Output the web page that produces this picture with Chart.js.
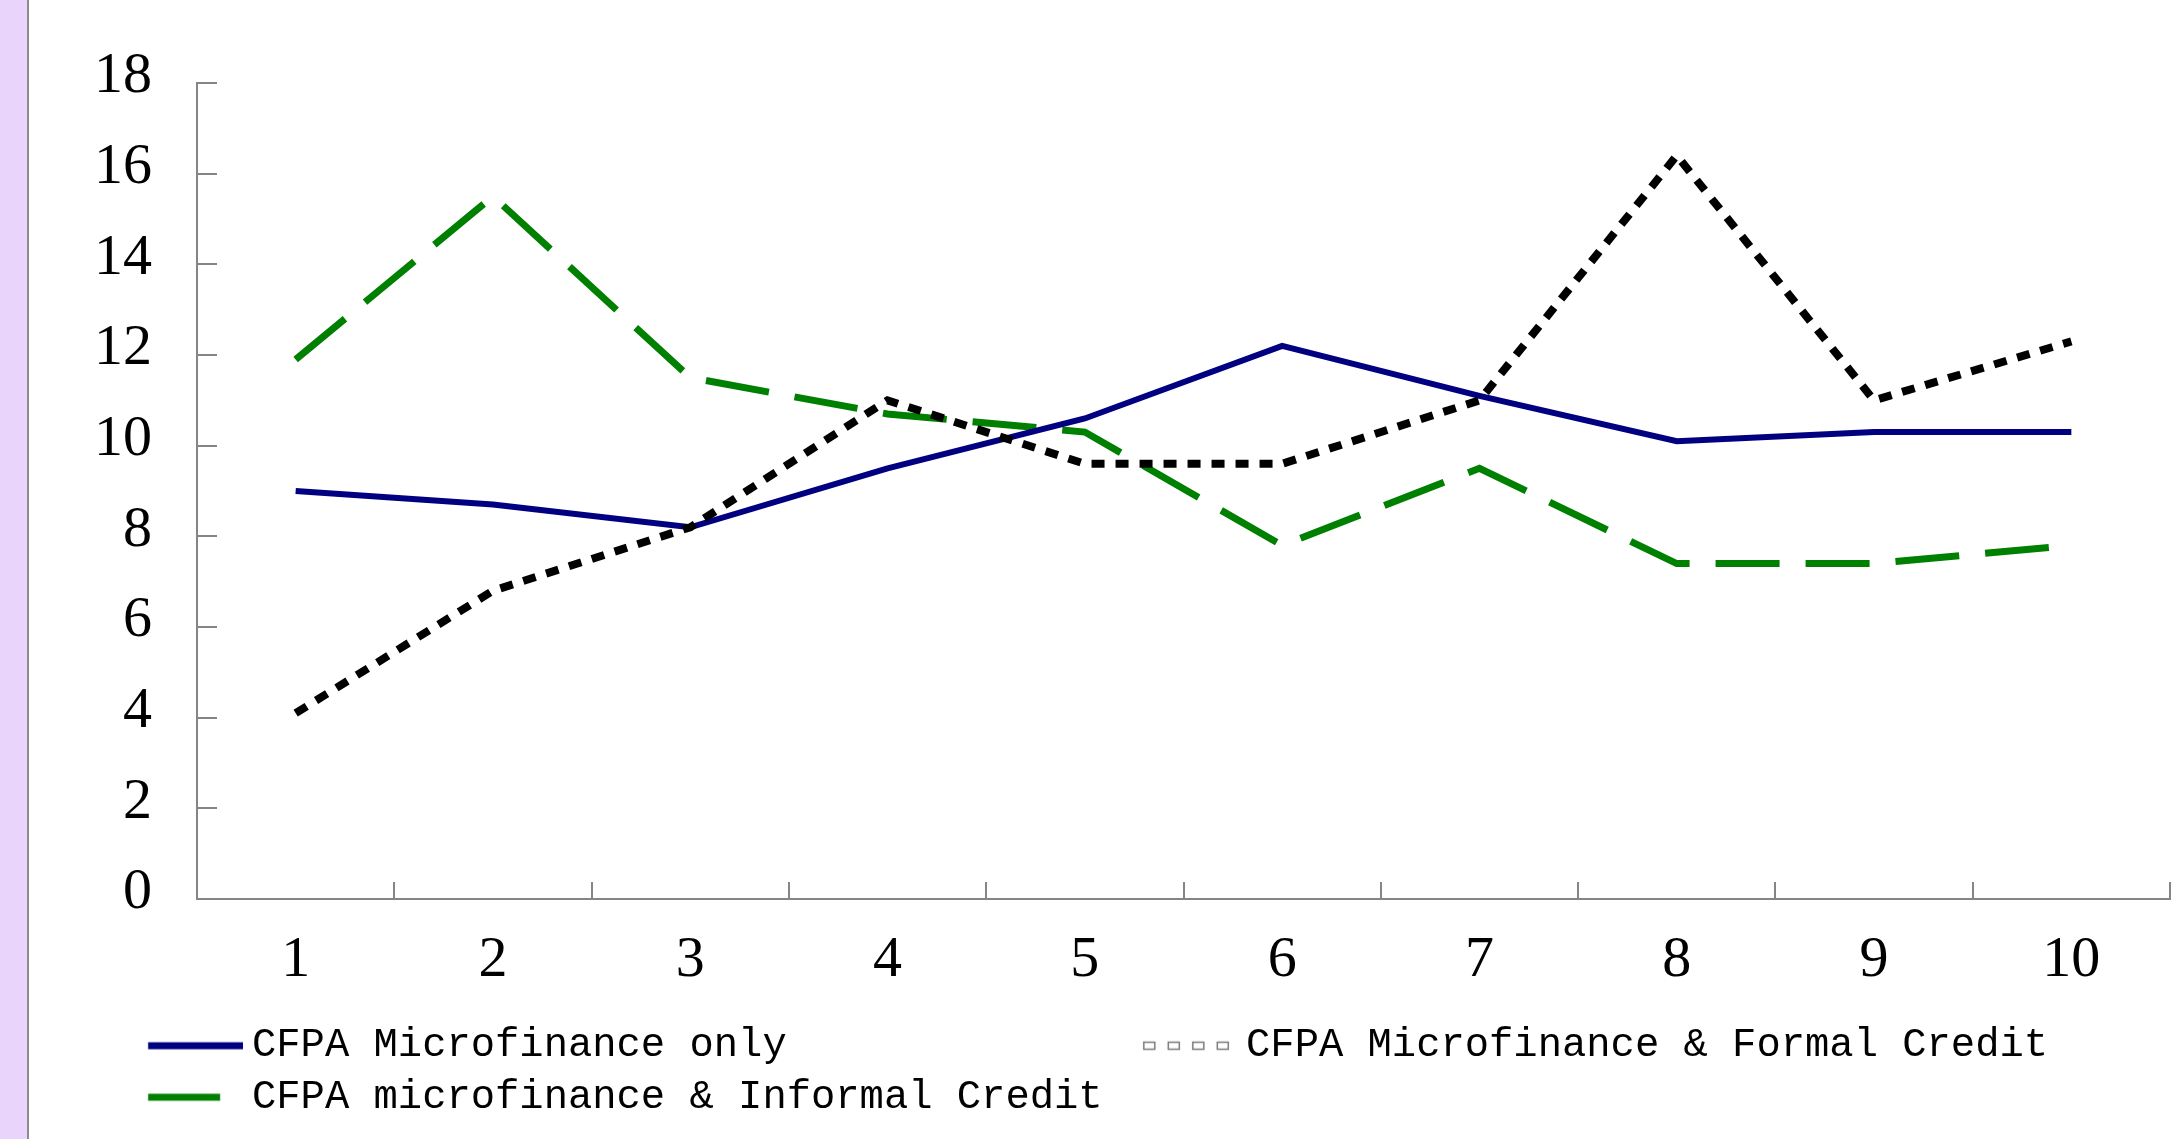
<!DOCTYPE html>
<html>
<head>
<meta charset="utf-8">
<script src="https://cdn.jsdelivr.net/npm/chart.js@4.4.0/dist/chart.umd.min.js"></script>
<style>
    html, body { margin: 0; padding: 0; background: #fff; }
    #marco { position: relative; width: 2174px; height: 1139px; }
    #franja { position: absolute; left: 0; top: 0; width: 27px; height: 1139px; background: #e9d5fb; border-right: 2px solid #8c8c8c; z-index: 2; }
</style>
</head>
<body>
<div id="marco">
    <div id="franja"></div>
    <canvas id="grafico"></canvas>
</div>
<script>
const categorias = ['1', '2', '3', '4', '5', '6', '7', '8', '9', '10'];
const soloMicro = [9.0, 8.7, 8.2, 9.5, 10.6, 12.2, 11.1, 10.1, 10.3, 10.3];
const creditoFormal = [4.1, 6.8, 8.2, 11.0, 9.6, 9.6, 11.0, 16.4, 11.0, 12.3];
const creditoInformal = [11.9, 15.5, 11.5, 10.7, 10.3, 7.8, 9.5, 7.4, 7.4, 7.8];
const ticksY = [0, 2, 4, 6, 8, 10, 12, 14, 16, 18];
const etiquetas = ['CFPA Microfinance only', 'CFPA Microfinance & Formal Credit', 'CFPA microfinance & Informal Credit'];

const gris = '#858585';

// medidas de la leyenda (fuente monoespaciada, 0.6em por caracter)
const padIzq = 60, padLeyenda = 11, fuenteLeyenda = 40.5;
const x1 = padIzq + padLeyenda;
const anchoCaja = 252 - fuenteLeyenda / 2 - x1;
const centro1 = x1 + anchoCaja / 2;
const anchoIcono = 2 * (243 - centro1);
const izqIcono1 = centro1 - anchoIcono / 2;
const relleno1 = 33;
const x2 = 252 + relleno1 * 0.6 * fuenteLeyenda + padLeyenda;
const izqIcono2 = x2 + anchoCaja / 2 - anchoIcono / 2;

function icono(tipo) {
    const c = document.createElement('canvas');
    c.width = Math.round(anchoIcono); c.height = 16;
    const g = c.getContext('2d');
    const o = 148 - izqIcono1;
    if (tipo === 'solido') {
        g.fillStyle = '#000080';
        g.fillRect(o, 4.5, 95, 7);
    } else if (tipo === 'guion') {
        g.fillStyle = '#008000';
        g.fillRect(o, 4.5, 72, 7);
    } else {
        const o2 = 1141 - izqIcono2;
        g.strokeStyle = '#7a7a7a';
        g.lineWidth = 1.5;
        for (let k = 0; k < 4; k++) g.strokeRect(o2 + 2.5 + k * 24.5, 4.5, 11, 7);
        g.fillStyle = '#9a9a9a';
        g.fillRect(o2 + 99, 5, 2, 6);
    }
    return c;
}
const iconos = [icono('solido'), icono('puntos'), icono('guion')];

new Chart(document.getElementById('grafico'), {
    type: 'line',
    data: {
        labels: categorias,
        datasets: [{
            label: etiquetas[0],
            data: soloMicro,
            borderColor: '#000080',
            borderWidth: 6,
            order: 1
        }, {
            label: etiquetas[1],
            data: creditoFormal,
            borderColor: '#000000',
            borderWidth: 8,
            borderDash: [13, 11],
            order: 0
        }, {
            label: etiquetas[2],
            data: creditoInformal,
            borderColor: '#008000',
            borderWidth: 7,
            borderDash: [64, 26],
            order: 2
        }]
    },
    options: {
        responsive: true,
        maintainAspectRatio: false,
        animation: false,
        devicePixelRatio: 1,
        elements: {
            line: { tension: 0, borderCapStyle: 'butt', borderJoinStyle: 'miter', fill: false },
            point: { radius: 0, hoverRadius: 0 }
        },
        layout: { padding: { left: padIzq, right: 4, top: 83, bottom: 11.5 } },
        plugins: {
            tooltip: { enabled: false },
            legend: {
                position: 'bottom',
                align: 'start',
                labels: {
                    usePointStyle: true,
                    pointStyleWidth: anchoCaja,
                    boxHeight: fuenteLeyenda,
                    padding: padLeyenda,
                    color: '#000',
                    font: { family: 'Liberation Mono', size: fuenteLeyenda },
                    generateLabels: () => etiquetas.map((t, i) => ({
                        text: i === 0 ? t.padEnd(relleno1) : t,
                        pointStyle: iconos[i],
                        lineWidth: 0,
                        hidden: false,
                        datasetIndex: i
                    }))
                }
            }
        },
        scales: {
            x: {
                offset: true,
                afterFit: s => { s.height = 115.5; },
                grid: { offset: true, drawOnChartArea: false, color: gris, lineWidth: 2, tickLength: -17 },
                border: { color: gris, width: 2 },
                ticks: { color: '#000', padding: 44, font: { family: 'Liberation Serif', size: 58 } }
            },
            y: {
                min: 0,
                max: 18,
                afterFit: s => { s.width = 197 - padIzq; },
                afterBuildTicks: s => { s.ticks = ticksY.map(v => ({ value: v })); },
                grid: { drawOnChartArea: false, color: gris, lineWidth: 2, tickLength: -20 },
                border: { color: gris, width: 2 },
                // lineHeight bajo para que la etiqueta superior no empuje el area hacia abajo
                ticks: { color: '#000', padding: 65, labelOffset: -6, font: { family: 'Liberation Serif', size: 58, lineHeight: 0.5 } }
            }
        }
    }
});
</script>
</body>
</html>
